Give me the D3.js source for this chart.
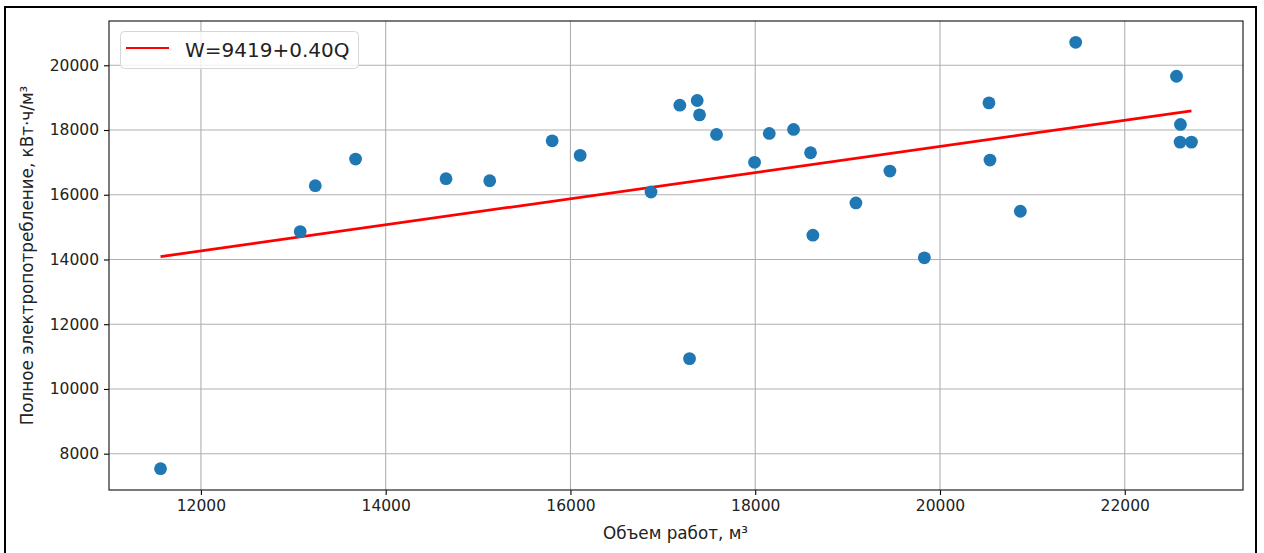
<!DOCTYPE html>
<html>
<head>
<meta charset="utf-8">
<script src="https://cdn.jsdelivr.net/npm/d3@7"></script>
<style>
  html, body { margin: 0; padding: 0; background: #fff; }
  svg { display: block; font-family: "DejaVu Sans", sans-serif; }
</style>
</head>
<body>
<svg id="chart" width="1264" height="553"></svg>
<script>
// Observed work volume (m³) and total power consumption (kWh/m³)
const volume = [11563, 13075, 13238, 13674, 14653, 15126, 15802, 16105, 16872, 17184,
                17372, 17397, 17581, 17289, 17993, 18152, 18415, 18599, 18624, 19090,
                19458, 19831, 20530, 20541, 20870, 21469, 22560, 22603, 22599, 22722];
const power  = [7537, 14861, 16279, 17102, 16495, 16433, 17666, 17216, 16085, 18767,
                18912, 18468, 17864, 10937, 17001, 17895, 18018, 17297, 14750, 15746,
                16732, 14051, 18838, 17072, 15490, 20709, 19661, 18172, 17626, 17626];

// Linear fit W = a + b·Q
const fitIntercept = 9419;
const fitSlope = 0.4037;

const xTicks = [12000, 14000, 16000, 18000, 20000, 22000];
const yTicks = [8000, 10000, 12000, 14000, 16000, 18000, 20000];

const xLabel = "Объем работ, м³";
const yLabel = "Полное электропотребление, кВт·ч/м³";

const svg = d3.select("#chart");
const plot = { left: 109, right: 1243, top: 21, bottom: 490 };

// Figure frame
svg.append("rect")
  .attr("x", 5).attr("y", 7)
  .attr("width", 1251).attr("height", 560)
  .attr("fill", "#fff").attr("stroke", "#000").attr("stroke-width", 2);

// Scales with 5% padding around the data extent
const xExt = d3.extent(volume), yExt = d3.extent(power);
const xPad = (xExt[1] - xExt[0]) * 0.05, yPad = (yExt[1] - yExt[0]) * 0.05;
const x = d3.scaleLinear().domain([xExt[0] - xPad, xExt[1] + xPad]).range([plot.left, plot.right]);
const y = d3.scaleLinear().domain([yExt[0] - yPad, yExt[1] + yPad]).range([plot.bottom, plot.top]);

const g = svg.append("g");

// Grid
g.append("g").selectAll("line").data(xTicks).join("line")
  .attr("x1", d => x(d)).attr("x2", d => x(d))
  .attr("y1", plot.top).attr("y2", plot.bottom)
  .attr("stroke", "#b0b0b0").attr("stroke-width", 1.1);
g.append("g").selectAll("line").data(yTicks).join("line")
  .attr("y1", d => y(d)).attr("y2", d => y(d))
  .attr("x1", plot.left).attr("x2", plot.right)
  .attr("stroke", "#b0b0b0").attr("stroke-width", 1.1);

// Axes
const xAxis = d3.axisBottom(x).tickValues(xTicks).tickFormat(d3.format("d")).tickSizeOuter(0).tickSize(5).tickPadding(5);
const yAxis = d3.axisLeft(y).tickValues(yTicks).tickFormat(d3.format("d")).tickSizeOuter(0).tickSize(5).tickPadding(5);

const xa = g.append("g").attr("transform", `translate(0,${plot.bottom})`).call(xAxis);
const ya = g.append("g").attr("transform", `translate(${plot.left},0)`).call(yAxis);
[xa, ya].forEach(a => {
  a.select(".domain").remove();
  a.selectAll(".tick line").attr("stroke", "#000").attr("stroke-width", 1.1);
  a.selectAll(".tick text").attr("fill", "#222").style("font-size", "15.5px")
    .style("font-family", "'DejaVu Sans', sans-serif");
});

// Fit line across the observed range
const fitX = d3.extent(volume);
g.append("line")
  .attr("x1", x(fitX[0])).attr("y1", y(fitIntercept + fitSlope * fitX[0]))
  .attr("x2", x(fitX[1])).attr("y2", y(fitIntercept + fitSlope * fitX[1]))
  .attr("stroke", "#ff0000").attr("stroke-width", 2.7);

// Scatter points
g.append("g").selectAll("circle").data(volume.map((v, i) => [v, power[i]])).join("circle")
  .attr("cx", d => x(d[0])).attr("cy", d => y(d[1]))
  .attr("r", 6.4).attr("fill", "#1f77b4");

// Plot frame
g.append("rect")
  .attr("x", plot.left).attr("y", plot.top)
  .attr("width", plot.right - plot.left).attr("height", plot.bottom - plot.top)
  .attr("fill", "none").attr("stroke", "#222").attr("stroke-width", 1.2);

// Axis titles
svg.append("text")
  .attr("x", 675.5).attr("y", 539)
  .attr("text-anchor", "middle").style("font-size", "16.8px").attr("fill", "#222")
  .text(xLabel);
svg.append("text")
  .attr("transform", `translate(33,${(plot.top + plot.bottom) / 2}) rotate(-90)`)
  .attr("text-anchor", "middle").style("font-size", "16.8px").attr("fill", "#222")
  .text(yLabel);

// Legend
const lg = svg.append("g");
lg.append("rect")
  .attr("x", 120.5).attr("y", 31.5).attr("width", 238).attr("height", 37).attr("rx", 4)
  .attr("fill", "#fff").attr("fill-opacity", 0.8).attr("stroke", "#d6d6d6").attr("stroke-width", 1);
lg.append("line")
  .attr("x1", 126).attr("x2", 169).attr("y1", 48).attr("y2", 48)
  .attr("stroke", "#ff0000").attr("stroke-width", 2);
lg.append("text")
  .attr("x", 185).attr("y", 56.5).style("font-size", "20px").attr("fill", "#222")
  .text(`W=${fitIntercept}+${fitSlope.toFixed(2)}Q`);
</script>
</body>
</html>
